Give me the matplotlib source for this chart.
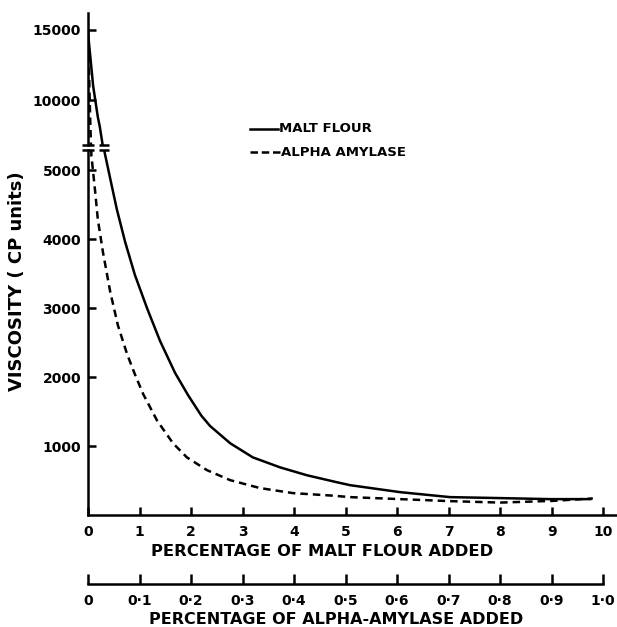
import matplotlib.pyplot as plt
from matplotlib.lines import Line2D

# viscosity readings (CP units) against amount of enzyme source added
malt_pct = [0, 0.05, 0.1, 0.19, 0.23, 0.28, 0.31, 0.43, 0.56, 0.72, 0.91,
            1.15, 1.40, 1.69, 1.94, 2.20, 2.37, 2.76, 3.20, 3.73, 4.25, 4.83,
            5.09, 6.06, 7.03, 8.0, 8.97, 9.75]
malt_visc = [14800, 12900, 11000, 8800, 8070, 6900, 5300, 4880, 4430, 3960,
             3480, 2990, 2520, 2060, 1740, 1440, 1290, 1040, 835, 690, 576,
             475, 432, 331, 259, 245, 230, 230]

# alpha-amylase is plotted on the malt scale (0-10 <-> 0-1.0 %)
amylase_pct = [0, 0.02, 0.04, 0.055, 0.065, 0.08, 0.14, 0.19, 0.29, 0.43,
               0.58, 0.76, 0.91, 1.07, 1.34, 1.65, 1.92, 2.31, 2.76, 3.34,
               3.98, 4.76, 5.09, 6.06, 7.03, 8.0, 9.03, 9.8]
amylase_visc = [15000, 12000, 9000, 7000, 5200, 5110, 4680, 4290, 3810, 3240,
                2750, 2330, 2040, 1755, 1370, 1040, 835, 650, 505, 390, 317,
                280, 259, 230, 201, 180, 205, 240]

malt_ticks = list(range(0, 11))
amylase_ticks = [i / 10 for i in range(0, 11)]
amylase_labels = ["0"] + ["0·%d" % i for i in range(1, 10)] + ["1·0"]
low_ticks = [1000, 2000, 3000, 4000, 5000]
high_ticks = [10000, 15000]

W, H = 617, 627
LW = 1.8
plt.rcParams['font.family'] = 'DejaVu Sans'
plt.rcParams['font.weight'] = 'bold'


def box(left, top, right, bottom):  # pixel box -> figure fraction
    return [left / W, 1 - bottom / H, (right - left) / W, (bottom - top) / H]


fig = plt.figure(figsize=(W / 100, H / 100), dpi=100)
ax_lo = fig.add_axes(box(88, 150, 616, 515))
ax_hi = fig.add_axes(box(88, 13, 616, 145))

lo_lim = (0, 5290)
hi_lim = (6786, 16214)

for ax, lim in ((ax_lo, lo_lim), (ax_hi, hi_lim)):
    ax.plot(malt_pct, malt_visc, color='black', lw=LW)
    ax.plot(amylase_pct, amylase_visc, color='black', lw=LW,
            linestyle=(0, (3, 2)))
    ax.set_xlim(0, 10.25)
    ax.set_ylim(*lim)
    for side in ('top', 'right'):
        ax.spines[side].set_visible(False)
    ax.spines['left'].set_linewidth(LW)
    ax.spines['bottom'].set_linewidth(LW)
    ax.tick_params(direction='in', length=6, width=LW, labelsize=10, pad=5)

ax_hi.spines['bottom'].set_visible(False)
ax_hi.set_xticks([])
ax_hi.set_yticks(high_ticks)

ax_lo.set_yticks(low_ticks)
ax_lo.set_xticks(malt_ticks)
ax_lo.tick_params(axis='x', pad=7)

# break marks on the axis and on the malt flour curve
for ax, y in ((ax_hi, hi_lim[0]), (ax_lo, lo_lim[1])):
    ax.plot([-0.12, 0.11], [y, y], color='black', lw=LW, clip_on=False,
            solid_capstyle='butt')
    ax.plot([0.21, 0.40], [y, y], color='black', lw=LW, clip_on=False,
            solid_capstyle='butt')

# alpha-amylase scale below the malt flour scale
sec = ax_lo.secondary_xaxis(-0.189, functions=(lambda x: x / 10,
                                              lambda x: x * 10))
sec.set_xticks(amylase_ticks, labels=amylase_labels)
sec.spines['bottom'].set_bounds(0, 1.0)
sec.spines['bottom'].set_linewidth(LW)
sec.tick_params(direction='in', length=7, width=LW, labelsize=10, pad=7)

fig.text(322 / W, 1 - 551 / H, "PERCENTAGE OF MALT FLOUR ADDED",
         ha='center', va='center', fontsize=11.8)
fig.text(336 / W, 1 - 619 / H, "PERCENTAGE OF ALPHA-AMYLASE ADDED",
         ha='center', va='center', fontsize=11.5)
fig.text(17 / W, 1 - 281 / H, "VISCOSITY ( CP units)", rotation=90,
         ha='center', va='center', fontsize=13)

# key
fig.add_artist(Line2D([250 / W, 278 / W], [1 - 129 / H, 1 - 129 / H],
                      color='black', lw=LW))
fig.add_artist(Line2D([250 / W, 280 / W], [1 - 152 / H, 1 - 152 / H],
                      color='black', lw=LW, linestyle=(0, (3, 1.5))))
fig.text(279 / W, 1 - 129 / H, "MALT FLOUR", va='center', fontsize=9.5)
fig.text(281 / W, 1 - 152 / H, "ALPHA AMYLASE", va='center', fontsize=9.5)

fig.savefig("out.png", dpi=100)
